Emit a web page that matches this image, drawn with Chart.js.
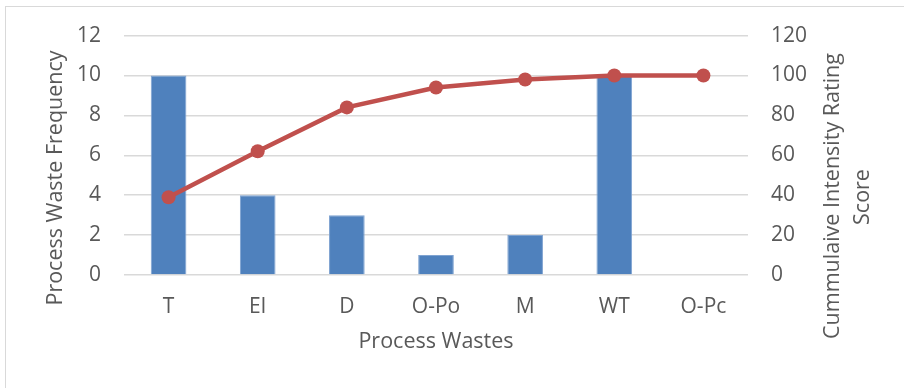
<!DOCTYPE html>
<html>
<head>
<meta charset="utf-8">
<script src="https://cdn.jsdelivr.net/npm/chart.js@4.4.1/dist/chart.umd.min.js"></script>
<style>
    html, body { margin: 0; padding: 0; background: #fff; }
    #wrap { position: relative; width: 904px; height: 388px; overflow: hidden; }
    #frame { position: absolute; left: 5px; top: 6px; width: 920px; height: 400px; border: 1px solid #d9d9d9; }
    #chart { position: absolute; left: 0; top: 0; }
</style>
</head>
<body>
<div id="wrap">
    <div id="frame"></div>
    <canvas id="chart" width="904" height="388"></canvas>
</div>
<script>
// chart data
var categories = ["T", "EI", "D", "O-Po", "M", "WT", "O-Pc"];
var wasteFrequency = [10, 4, 3, 1, 2, 10, 0];
var cumulativeScore = [39, 62, 84, 94, 98, 100, 100];

// axis ranges
var leftAxisRange = [0, 12, 2];     // min, max, step
var rightAxisRange = [0, 120, 20];

// titles
var xTitle = "Process Wastes";
var leftTitle = "Process Waste Frequency";
var rightTitle = ["Cummulaive Intensity Rating", "Score"];

var textColor = "#595959";
var fontFamily = '"Open Sans", "DejaVu Sans", sans-serif';

/*
 vertical axis titles, Excel style (both read bottom to top)
 */
var sideTitles = {
    id: "sideTitles",
    afterDraw: function (chart) {
        var ctx = chart.ctx;
        ctx.save();
        ctx.fillStyle = textColor;
        ctx.font = "21.5px " + fontFamily;
        ctx.textAlign = "center";
        ctx.textBaseline = "middle";
        drawUp(ctx, leftTitle, 56, 178);
        drawUp(ctx, rightTitle[0], 833, 196);
        drawUp(ctx, rightTitle[1], 863, 197);
        ctx.restore();
    }
};

function drawUp(ctx, text, x, y) {
    ctx.save();
    ctx.translate(x, y);
    ctx.rotate(-Math.PI / 2);
    ctx.fillText(text, 0, 0);
    ctx.restore();
}

var tickFont = { family: fontFamily, size: 21 };

var myChart = new Chart(document.getElementById("chart").getContext("2d"), {
    type: "bar",
    data: {
        labels: categories,
        datasets: [
            {
                type: "line",
                label: "Cumulative",
                data: cumulativeScore,
                yAxisID: "y1",
                borderColor: "#C0504D",
                backgroundColor: "#C0504D",
                borderWidth: 4.5,
                pointRadius: 7,
                pointHoverRadius: 7,
                pointBorderWidth: 0,
                tension: 0,
                order: 0
            },
            {
                type: "bar",
                label: "Frequency",
                data: wasteFrequency,
                yAxisID: "y",
                backgroundColor: "#4F81BD",
                borderColor: "#7FA3D1",
                borderWidth: 1,
                barPercentage: 0.4,
                categoryPercentage: 1.0,
                order: 1
            }
        ]
    },
    options: {
        responsive: false,
        animation: false,
        layout: { padding: { top: 35, left: 0, right: 0, bottom: 0 } },
        plugins: {
            legend: { display: false },
            tooltip: { enabled: false }
        },
        scales: {
            x: {
                grid: { display: false },
                border: { display: false },
                ticks: { color: textColor, font: tickFont, padding: 11, maxRotation: 0 },
                title: {
                    display: true,
                    text: xTitle,
                    color: textColor,
                    font: { family: fontFamily, size: 21.5 },
                    padding: { top: 0, bottom: 33 }
                },
                afterFit: function (scale) { scale.height = 113; }
            },
            y: {
                position: "left",
                min: leftAxisRange[0],
                max: leftAxisRange[1],
                grid: { color: "#D9D9D9", lineWidth: 1.5, drawTicks: false },
                border: { display: false },
                ticks: { stepSize: leftAxisRange[2], color: textColor, font: tickFont, padding: 23 },
                afterFit: function (scale) { scale.width = 124; }
            },
            y1: {
                position: "right",
                min: rightAxisRange[0],
                max: rightAxisRange[1],
                grid: { display: false, drawTicks: false },
                border: { display: false },
                ticks: { stepSize: rightAxisRange[2], color: textColor, font: tickFont, padding: 23 },
                afterFit: function (scale) { scale.width = 156; }
            }
        }
    },
    plugins: [sideTitles]
});
</script>
</body>
</html>
